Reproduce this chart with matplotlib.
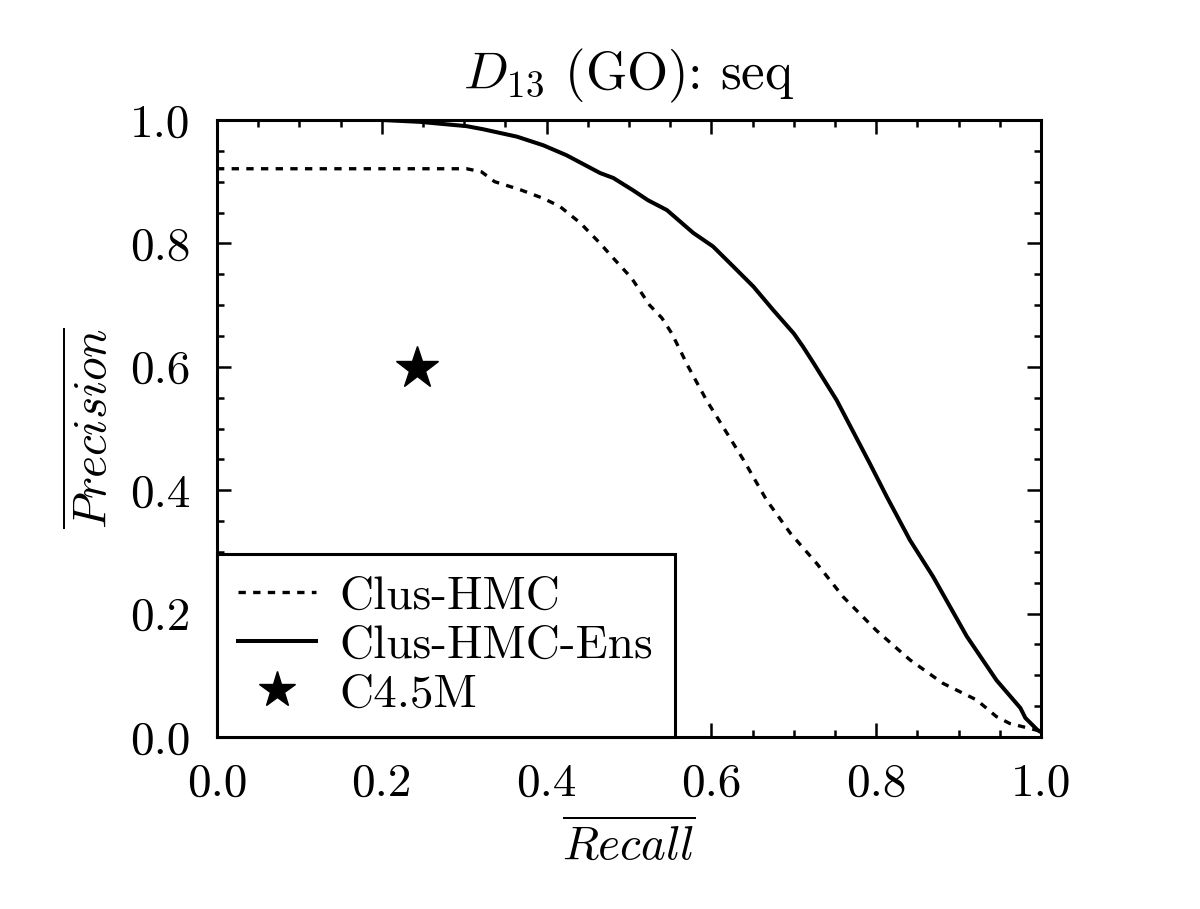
import matplotlib
matplotlib.use("Agg")
import matplotlib.pyplot as plt
from matplotlib.ticker import MultipleLocator

# values
recall_ens = [0.0, 0.20, 0.246, 0.303, 0.323, 0.364, 0.396, 0.424, 0.465, 0.481, 0.505,
              0.523, 0.546, 0.578, 0.602, 0.627, 0.651, 0.675, 0.700, 0.711, 0.724,
              0.752, 0.792, 0.813, 0.841, 0.869, 0.910, 0.946, 0.975, 0.981, 0.996, 1.0]
prec_ens = [1.0, 1.0, 0.997, 0.990, 0.985, 0.973, 0.959, 0.943, 0.914, 0.906, 0.886,
            0.870, 0.854, 0.817, 0.795, 0.762, 0.730, 0.692, 0.654, 0.633, 0.606,
            0.546, 0.444, 0.389, 0.319, 0.260, 0.163, 0.092, 0.047, 0.031, 0.011, 0.008]

recall_hmc = [0.0, 0.303, 0.321, 0.337, 0.368, 0.396, 0.416, 0.441, 0.465, 0.481, 0.503,
              0.525, 0.540, 0.552, 0.562, 0.572, 0.594, 0.614, 0.639, 0.667, 0.696,
              0.728, 0.760, 0.800, 0.841, 0.881, 0.922, 0.946, 0.962, 0.995, 1.0]
prec_hmc = [0.921, 0.921, 0.916, 0.900, 0.887, 0.873, 0.860, 0.833, 0.800, 0.776, 0.744,
            0.700, 0.679, 0.654, 0.627, 0.600, 0.546, 0.503, 0.449, 0.384, 0.330,
            0.281, 0.227, 0.173, 0.125, 0.087, 0.060, 0.033, 0.022, 0.011, 0.010]

c45_recall = [0.243]
c45_prec = [0.598]

plt.rcParams['font.family'] = 'serif'
plt.rcParams['font.serif'] = ['cmr10']
plt.rcParams['mathtext.fontset'] = 'cm'
plt.rcParams['axes.formatter.use_mathtext'] = True
plt.rcParams['font.size'] = 34

fig = plt.figure(figsize=(12, 9.09), dpi=100)
ax = fig.add_axes([0.1808, 0.1892, 0.6867, 0.6788])

ax.plot(recall_hmc, prec_hmc, color='black', lw=2.4, dashes=(2.2, 2.2), label='Clus-HMC')
ax.plot(recall_ens, prec_ens, color='black', lw=2.9, label='Clus-HMC-Ens')
ax.plot(c45_recall, c45_prec, ls='none', marker='*', color='black', ms=32, label='C4.5M')

ax.set_xlim(0, 1)
ax.set_ylim(0, 1)
ax.xaxis.set_major_locator(MultipleLocator(0.2))
ax.xaxis.set_minor_locator(MultipleLocator(0.05))
ax.yaxis.set_major_locator(MultipleLocator(0.2))
ax.yaxis.set_minor_locator(MultipleLocator(0.05))
ax.xaxis.set_major_formatter(plt.FormatStrFormatter('%.1f'))
ax.yaxis.set_major_formatter(plt.FormatStrFormatter('%.1f'))
ax.tick_params(which='both', direction='in', top=True, right=True, width=1.8, pad=19)
ax.tick_params(which='major', length=10)
ax.tick_params(which='minor', length=5)
for sp in ax.spines.values():
    sp.set_linewidth(2.2)

ax.set_title(r'$D_{13}$ (GO): seq', fontsize=38, pad=22)
ax.set_xlabel(r'$\overline{Recall}$', labelpad=10)
ax.set_ylabel(r'$\overline{Precision}$', labelpad=10)

leg = ax.legend(loc='lower left', borderaxespad=0, fancybox=False, framealpha=1,
                edgecolor='black', handlelength=1.65, handletextpad=0.5,
                borderpad=0.45, labelspacing=0.15, markerscale=0.85)
leg.get_frame().set_linewidth(2.2)

fig.savefig('out.png', dpi=100)
